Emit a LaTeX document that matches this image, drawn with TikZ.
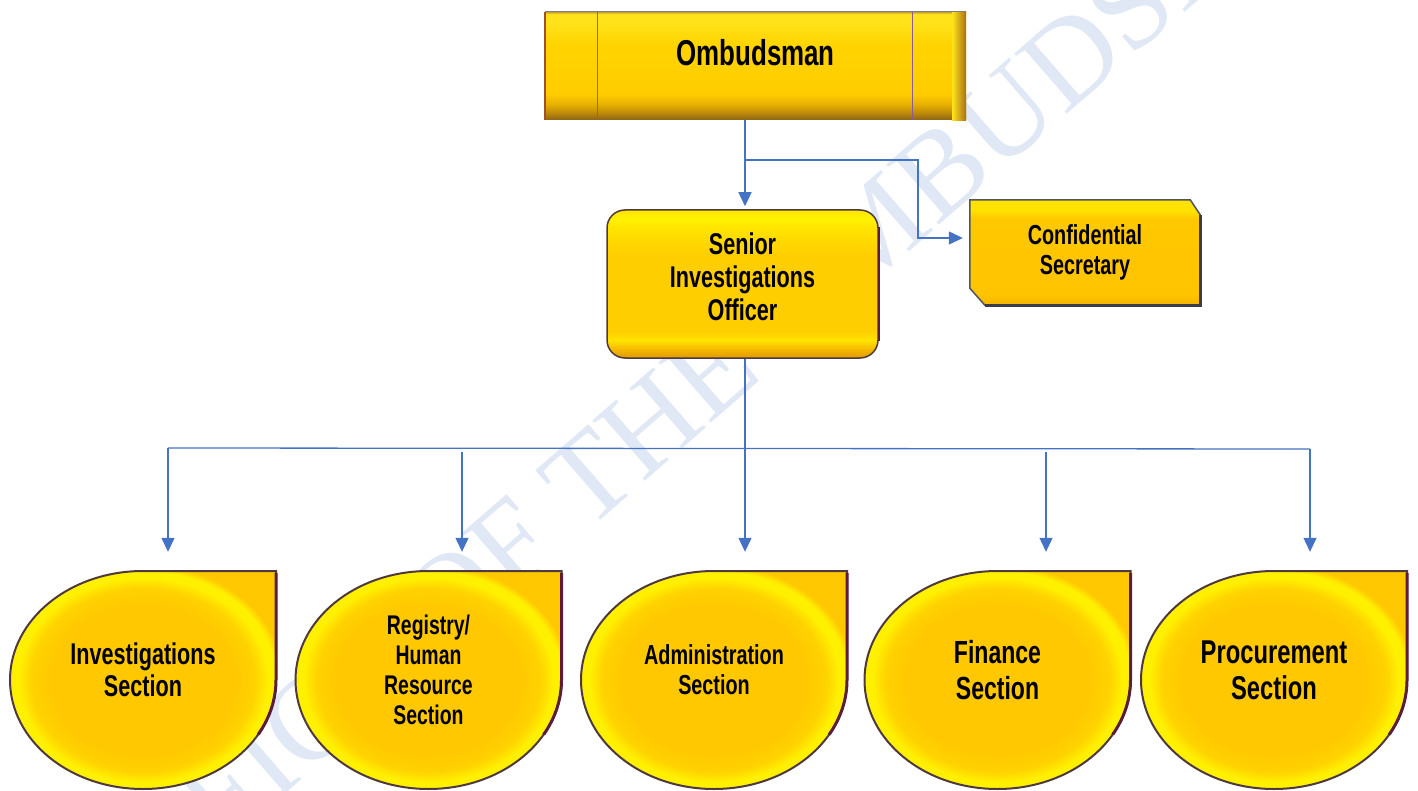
\documentclass[tikz,border=0pt]{standalone}
\usepackage{fontspec}
\newfontfamily\lblfont{Liberation Sans}[FakeStretch=0.72]
\newfontfamily\wmfont{Liberation Serif}
\usetikzlibrary{arrows.meta,calc}
\definecolor{conncol}{HTML}{4472C4}
\definecolor{wmcol}{HTML}{DFE8F4}
\definecolor{tgold}{HTML}{FFC800}
\definecolor{tgoldb}{HTML}{FFD200}
\definecolor{tyel}{HTML}{FFF000}
\definecolor{edgecol}{HTML}{4E3A3E}
\definecolor{mymaroon}{HTML}{5A1E3C}
\definecolor{ombA}{HTML}{8C6418}
\definecolor{ombB}{HTML}{B8860B}
\definecolor{ombC}{HTML}{E6AE00}
\definecolor{ombD}{HTML}{FFCC00}
\definecolor{ombE}{HTML}{FFD400}
\definecolor{ombF}{HTML}{FFE21A}
\definecolor{ombG}{HTML}{C8A030}
\definecolor{sioA}{HTML}{E09A00}
\definecolor{sioB}{HTML}{F5B800}
\definecolor{sioC}{HTML}{FFE400}
\definecolor{sioD}{HTML}{FFCE00}
\definecolor{sioE}{HTML}{FFF200}
\definecolor{confA}{HTML}{F2B400}
\definecolor{confB}{HTML}{FFC400}
\definecolor{confC}{HTML}{FFE200}
\definecolor{confedge}{HTML}{4F5462}
\definecolor{confshadow}{HTML}{3A3C48}
\definecolor{ombline}{HTML}{8A5A9A}
\definecolor{ombleft}{HTML}{A0502A}
\definecolor{ombright}{HTML}{A86E14}
\pgfdeclareverticalshading{ombshade}{100bp}{color(0bp)=(ombA); color(25bp)=(ombA); color(28bp)=(ombB); color(32bp)=(ombC); color(37bp)=(ombD); color(60bp)=(ombE); color(70bp)=(ombF); color(74bp)=(ombF); color(75bp)=(ombG); color(100bp)=(ombG)}
\pgfdeclareverticalshading{sioshade}{100bp}{color(0bp)=(sioA); color(25bp)=(sioA); color(28bp)=(sioB); color(31bp)=(sioC); color(34bp)=(sioD); color(60bp)=(sioD); color(69bp)=(sioC); color(72bp)=(sioE); color(75bp)=(sioC); color(100bp)=(sioC)}
\pgfdeclareverticalshading{confshade}{100bp}{color(0bp)=(confA); color(25bp)=(confA); color(30bp)=(confB); color(66bp)=(tgold); color(70bp)=(confC); color(75bp)=(confC); color(100bp)=(confC)}
\pgfdeclareradialshading{tearshade}{\pgfpoint{0bp}{0bp}}{color(0bp)=(tgold); color(17bp)=(tgold); color(21bp)=(tgoldb); color(23.5bp)=(tyel); color(25bp)=(tyel); color(26.5bp)=(tgold); color(50bp)=(tgold)}
\pgfdeclarelayer{bg}
\pgfsetlayers{bg,main}
\begin{document}
\begin{tikzpicture}[x=1pt,y=-1pt,
  conn/.style={draw=conncol, line width=1.3pt, -{Triangle[width=13pt,length=14pt]}},
  busline/.style={draw=conncol, line width=1.3pt},
  txt/.style={inner sep=0pt, align=center, text=black},
  ombbox/.style={minimum width=421pt, minimum height=108pt, inner sep=0pt, shade, shading=ombshade},
  siobox/.style={minimum width=271pt, minimum height=148pt, inner sep=0pt, rounded corners=18pt, shade, shading=sioshade, draw=edgecol, line width=1.5pt},
  confbox/.style={minimum width=230pt, minimum height=105pt, inner sep=0pt, align=center},
  secnode/.style={minimum width=266pt, minimum height=236pt, inner sep=0pt, align=center},
  tear/.style={shading=tearshade, draw=edgecol, line width=2pt},
  wm/.style={inner sep=0pt, text=wmcol, rotate=41, font={\wmfont\fontsize{122}{122}\selectfont}}]
\useasboundingbox (0,0) rectangle (1418,791);

% watermark
\begin{pgfonlayer}{bg}
\node[wm] (wmark) at (725,359) {OFFICE OF THE OMBUDSMAN};
\end{pgfonlayer}

% boxes
\node[ombbox] (omb) at (755.5,66) {};
\shade[left color=ombF, right color=ombright] ([xshift=-14pt]omb.north east) rectangle (omb.south east);
\draw[ombline, line width=1.2pt] ([xshift=53pt]omb.north west) -- ([xshift=53pt]omb.south west);
\draw[ombline, line width=1.2pt] ([xshift=368pt]omb.north west) -- ([xshift=368pt]omb.south west);
\draw[ombleft, line width=2pt] (omb.north west) -- (omb.south west);
\draw[gray, line width=0.8pt] (omb.north west) -- (omb.north east);
\node[txt, font={\lblfont\bfseries\fontsize{36}{40}\selectfont}] (ombt) at (755.5,53) {Ombudsman};

\node[siobox] (sio) at (742.5,284) {};
\draw[mymaroon, line width=2.5pt] ([yshift=-18pt]sio.north east) -- ([yshift=18pt]sio.south east);
\node[txt, font={\lblfont\bfseries\fontsize{30}{33}\selectfont}] (siot) at (742.5,277) {Senior\\Investigations\\Officer};

\node[confbox, font={\lblfont\bfseries\fontsize{27.5}{30}\selectfont}] (conf) at (1085,252.5) {Confidential\\Secretary};

\node[secnode, font={\lblfont\bfseries\fontsize{30}{32}\selectfont}] (inv) at (143,670) {Investigations\\Section};
\node[secnode, font={\lblfont\bfseries\fontsize{27}{30}\selectfont}] (reg) at (428.5,670) {Registry/\\Human\\Resource\\Section};
\node[secnode, font={\lblfont\bfseries\fontsize{27.5}{30}\selectfont}] (adm) at (714,670) {Administration\\Section};
\node[secnode, font={\lblfont\bfseries\fontsize{32}{36}\selectfont}] (fin) at (997.5,670) {Finance\\Section};
\node[secnode, font={\lblfont\bfseries\fontsize{33}{36}\selectfont}] (pro) at (1274,670) {Procurement\\Section};

\begin{pgfonlayer}{bg}
\shadedraw[shading=confshade, draw=confedge, line width=1.5pt]
  (conf.north west) -- ([xshift=-10pt]conf.north east) -- ([yshift=-15pt]conf.north east)
  -- (conf.south east) -- ([xshift=15pt]conf.south west) -- ([yshift=17pt]conf.south west) -- cycle;
\draw[confshadow, line width=3pt] ([yshift=-15pt]conf.north east) -- (conf.south east) -- ([xshift=15pt]conf.south west);
\foreach \n in {inv,reg,adm,fin,pro}{
  \shadedraw[tear] ([shift={(133,-99)}]\n.center) -- ([shift={(133,10)}]\n.center)
    arc[start angle=0,end angle=-180,x radius=133pt,y radius=109pt]
    arc[start angle=-180,end angle=-270,x radius=133pt,y radius=109pt] -- cycle;
  \draw[mymaroon, line width=3pt] ([shift={(133,-97)}]\n.center) -- ([shift={(133,10)}]\n.center)
    arc[start angle=0,end angle=-30,x radius=133pt,y radius=109pt];
}
\end{pgfonlayer}

% connectors
\coordinate (j1) at (745,160);
\coordinate (j2) at (918,238);
\coordinate (busL) at (168,448);
\coordinate (busR) at (1310,449);
\coordinate (b2) at (462,452);
\coordinate (b4) at (1046,452);
\draw[conn, shorten >=3pt] ([xshift=-10.5pt]omb.south) -- ([xshift=2.5pt]sio.north);
\draw[conn, shorten >=7pt] (j1) -| (j2) -- (conf.west |- j2);
\draw[busline] (busL) -- (busR);
\draw[conn] ([xshift=2.5pt]sio.south) -- ([xshift=31pt]adm.north);
\draw[conn] (busL) -- ([xshift=25pt]inv.north);
\draw[conn] (b2) -- ([xshift=33.5pt]reg.north);
\draw[conn] (b4) -- ([xshift=48.5pt]fin.north);
\draw[conn] (busR) -- ([xshift=36pt]pro.north);
\end{tikzpicture}
\end{document}
